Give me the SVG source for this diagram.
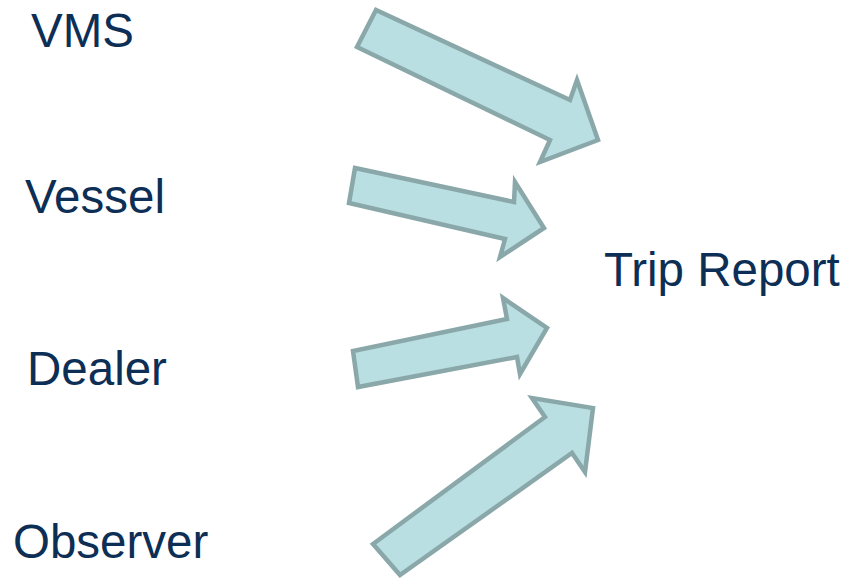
<svg xmlns="http://www.w3.org/2000/svg" width="848" height="580" viewBox="0 0 848 580">
<style>
.lbl{font-family:"Liberation Sans",Arial,sans-serif;font-size:47.5px;fill:#0d2e55}
.arr{fill:#b9dfe3;stroke:#8aa8a9;stroke-width:4.5;stroke-linejoin:miter}
</style>
<rect width="848" height="580" fill="#ffffff"/>
<g id="vms"><text class="lbl" x="31" y="47">VMS</text></g>
<g id="vessel"><text class="lbl" x="25" y="213">Vessel</text></g>
<g id="dealer"><text class="lbl" x="27" y="385">Dealer</text></g>
<g id="observer"><text class="lbl" x="13" y="558">Observer</text></g>
<g id="trip-report"><text class="lbl" x="604" y="286">Trip Report</text></g>
<g id="connectors">
<polygon class="arr" points="376,10 357,47 550,140 540,162 598,140 577,80 570,100"/>
<polygon class="arr" points="355,168 349,203 505,239 500,257 544,228 515,182 514,202"/>
<polygon class="arr" points="353,351 358,387 517,357 520,374 547,328 503,298 507,319"/>
<polygon class="arr" points="373,544 400,575 572,453 585,472 593,408 532,398 545,417"/>
</g>
</svg>
